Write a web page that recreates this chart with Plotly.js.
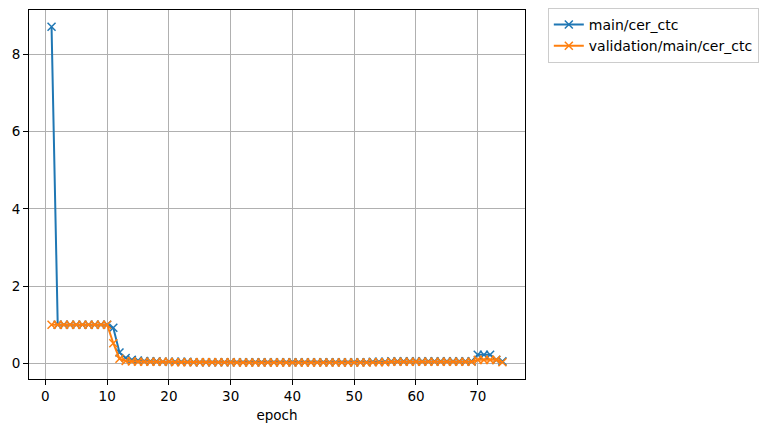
<!DOCTYPE html>
<html>
<head>
<meta charset="utf-8">
<script src="https://cdn.plot.ly/plotly-3.0.1.min.js"></script>
<style>html,body{margin:0;padding:0;background:#fff;}#chart{width:771px;height:432px;}</style>
</head>
<body>
<div id="chart"></div>
<script>
const epochs = [];
for (let i = 1; i <= 74; i++) epochs.push(i);

const mainCer = [
  8.72, 1.0, 1.0, 1.0, 1.0, 1.0, 1.0, 1.0, 1.0, 1.0,
  0.92, 0.28, 0.14, 0.09, 0.07, 0.06, 0.05, 0.05, 0.04, 0.04,
  0.04, 0.04, 0.04, 0.03, 0.03, 0.03, 0.03, 0.03, 0.03, 0.03,
  0.03, 0.03, 0.03, 0.03, 0.03, 0.03, 0.03, 0.03, 0.03, 0.03,
  0.03, 0.03, 0.03, 0.03, 0.03, 0.03, 0.03, 0.03, 0.03, 0.03,
  0.03, 0.03, 0.04, 0.04, 0.04,
  0.05, 0.05, 0.05, 0.05, 0.05, 0.05, 0.05, 0.05, 0.05, 0.05, 0.05, 0.05, 0.05, 0.05,
  0.22, 0.22, 0.22, 0.09, 0.05
];

const valCer = [
  1.0, 1.0, 1.0, 1.0, 1.0, 1.0, 1.0, 1.0, 1.0, 1.0,
  0.52, 0.12, 0.06, 0.05, 0.04, 0.04, 0.04, 0.04, 0.04, 0.04,
  0.03, 0.03, 0.03, 0.03, 0.03, 0.03, 0.03, 0.03, 0.03, 0.03,
  0.02, 0.02, 0.02, 0.02, 0.02, 0.02, 0.02, 0.02, 0.02, 0.02,
  0.02, 0.02, 0.02, 0.02, 0.02, 0.02, 0.02, 0.02, 0.02, 0.02,
  0.02, 0.02, 0.03, 0.03, 0.03,
  0.04, 0.04, 0.04, 0.04, 0.04, 0.04, 0.04, 0.04, 0.04, 0.04, 0.04, 0.04, 0.04, 0.04,
  0.09, 0.09, 0.09, 0.09, 0.03
];

const seriesNames = ['main/cer_ctc', 'validation/main/cer_ctc'];
const xTicks = [0, 10, 20, 30, 40, 50, 60, 70];
const yTicks = [0, 2, 4, 6, 8];

const font = {family: 'DejaVu Sans, sans-serif', size: 13.5, color: '#000'};
const legendFont = {family: 'DejaVu Sans, sans-serif', size: 14, color: '#000'};

function trace(y, name, color) {
  return {
    x: epochs, y: y, name: name, type: 'scatter', mode: 'lines+markers',
    line: {color: color, width: 2},
    marker: {symbol: 'x-thin', size: 8, line: {color: color, width: 1.5}, color: color}
  };
}

const data = [
  trace(mainCer, seriesNames[0], '#1f77b4'),
  trace(valCer, seriesNames[1], '#ff7f0e')
];

const axisCommon = {
  showline: true, linecolor: '#000', linewidth: 1, mirror: true,
  ticks: 'outside', ticklen: 5, tickwidth: 1, tickcolor: '#000',
  showgrid: true, gridcolor: '#b0b0b0', gridwidth: 1,
  zeroline: false, tickfont: font
};

const layout = {
  width: 771, height: 432,
  margin: {l: 29, r: 246, t: 9, b: 53},
  paper_bgcolor: '#fff', plot_bgcolor: '#fff',
  font: font,
  showlegend: true,
  legend: {
    x: 1.046, y: 1.003, xanchor: 'left', yanchor: 'top',
    bordercolor: '#cccccc', borderwidth: 1, bgcolor: '#fff',
    font: legendFont, tracegroupgap: 0
  },
  xaxis: Object.assign({}, axisCommon, {
    range: [-2.65, 77.65], tickvals: xTicks, ticktext: xTicks.map(String),
    title: {text: 'epoch', font: font, standoff: 7}
  }),
  yaxis: Object.assign({}, axisCommon, {
    range: [-0.406, 9.155], tickvals: yTicks, ticktext: yTicks.map(String)
  })
};

Plotly.newPlot('chart', data, layout, {staticPlot: true, displayModeBar: false});
</script>
</body>
</html>
